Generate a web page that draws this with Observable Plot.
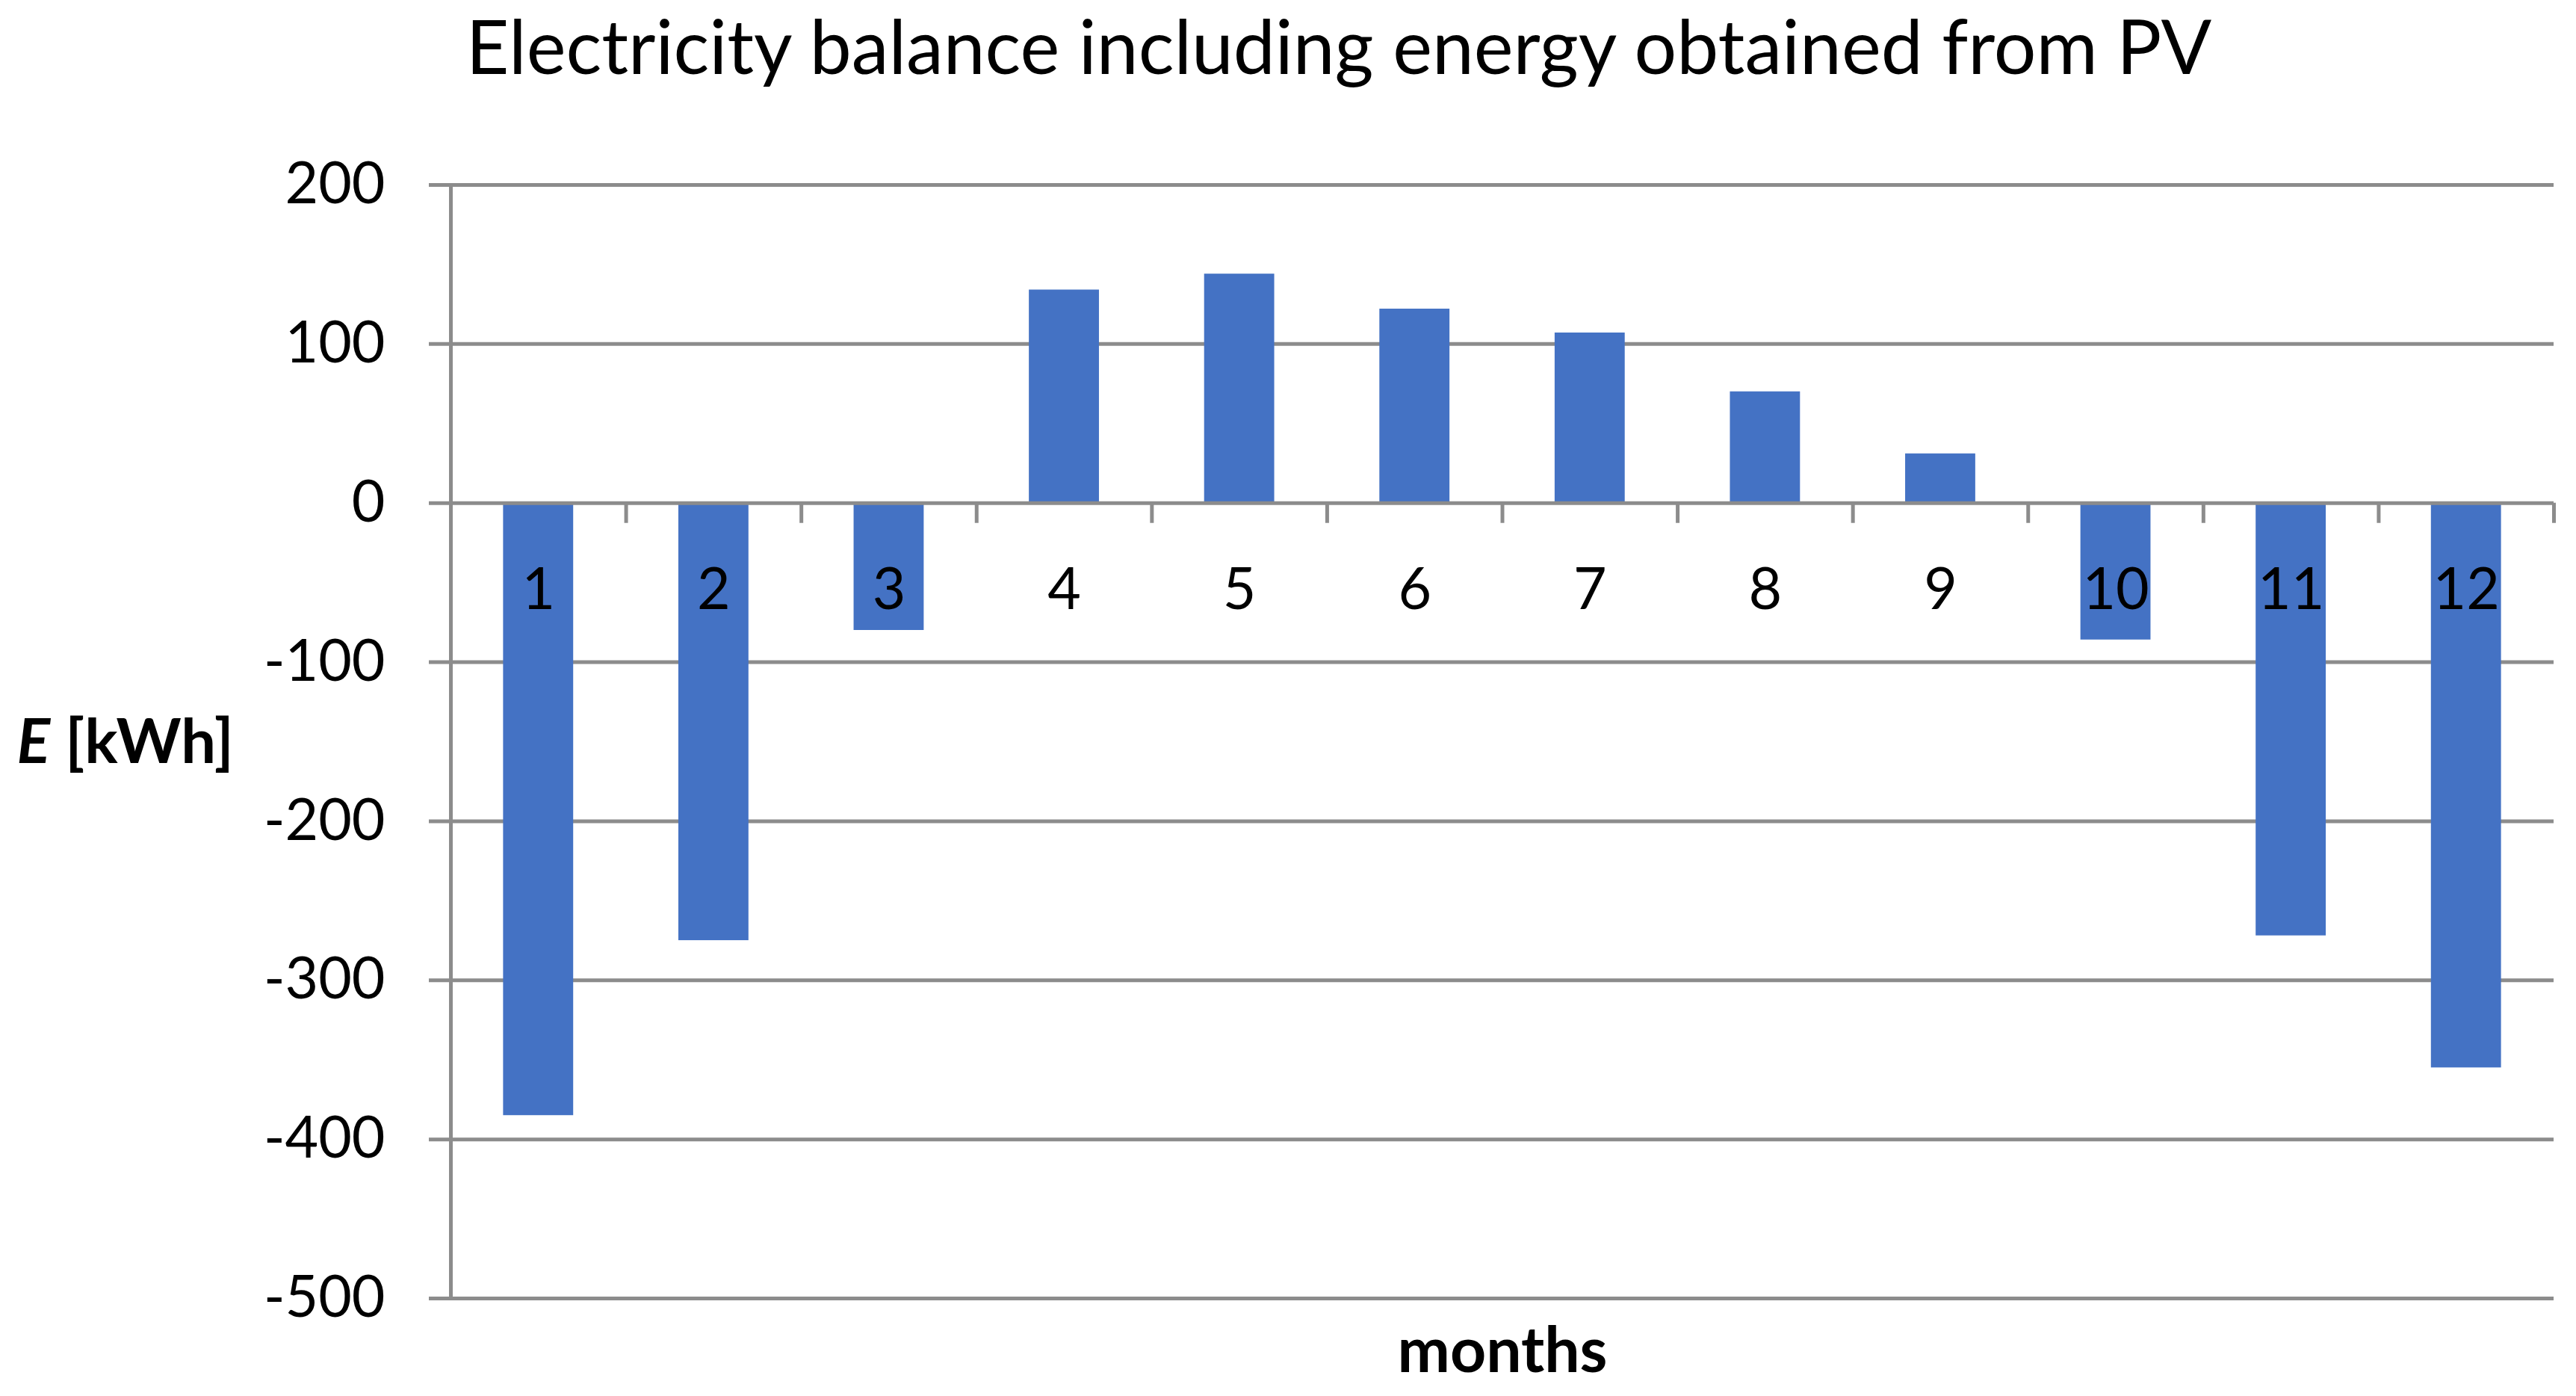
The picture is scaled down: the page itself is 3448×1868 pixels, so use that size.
<!DOCTYPE html>
<html>
<head>
<meta charset="utf-8">
<script src="https://cdn.jsdelivr.net/npm/d3@7"></script>
<script src="https://cdn.jsdelivr.net/npm/@observablehq/plot@0.6"></script>
<style>
  html, body { margin: 0; padding: 0; background: #ffffff; }
  #chart svg { display: block; }
</style>
</head>
<body>
<div id="chart"></div>
<script>
// ---- data ----
const months = [1, 2, 3, 4, 5, 6, 7, 8, 9, 10, 11, 12];
const values = [-385, -275, -80, 134, 144, 122, 107, 70, 31, -86, -272, -355];
const yTicks = [200, 100, 0, -100, -200, -300, -400, -500];
const titleText = "Electricity balance including energy obtained from PV";
const xLabelText = "months";
const yLabelSymbol = "E";
const yLabelUnit = " [kWh]";

const data = months.map((m, i) => ({month: m, value: values[i]}));
const bounds = months.map(m => m + 0.5);

const grid = "#8c8c8c";
const barColor = "#4472C4";
const font = "Lato";

const svg = Plot.plot({
  width: 3448,
  height: 1868,
  marginLeft: 603,
  marginRight: 30,
  marginTop: 247,
  marginBottom: 131,
  style: {fontFamily: font, background: "#ffffff", color: "#000000"},
  x: {domain: [0.5, 12.5], axis: null},
  y: {domain: [-500, 200], axis: null},
  marks: [
    Plot.ruleY(yTicks.filter(d => d !== 0), {stroke: grid, strokeWidth: 5, insetLeft: -29}),
    Plot.rect(data, {x1: d => d.month - 0.2, x2: d => d.month + 0.2, y1: 0, y2: "value", fill: barColor}),
    Plot.ruleY([0], {stroke: grid, strokeWidth: 5, insetLeft: -29}),
    Plot.ruleX(bounds, {x: d => d, y1: 0, y2: -12.7, stroke: grid, strokeWidth: 5}),
    Plot.ruleX([0.5], {y1: -500, y2: 200, stroke: grid, strokeWidth: 5}),
    Plot.axisY(yTicks, {tickSize: 0, tickPadding: 88, fontSize: 77, tickFormat: d => String(d), fill: "#000000", label: null}),
    Plot.text(data, {x: "month", y: 0, dy: 117, text: d => String(d.month), fontSize: 77, fill: "#000000"}),
    Plot.text([titleText], {frameAnchor: "top", lineAnchor: "middle", dx: -219, dy: -181, fontSize: 100, fill: "#000000"}),
    Plot.text([xLabelText], {frameAnchor: "bottom", lineAnchor: "middle", dy: 72, fontSize: 84, fontWeight: "bold", fill: "#000000"}),
    Plot.text([yLabelSymbol + yLabelUnit], {frameAnchor: "left", lineAnchor: "middle", dx: -581, dy: 2, textAnchor: "start", fontSize: 83, fontWeight: "bold", fill: "#000000", className: "ylab"})
  ]
});

// style the y label: italic symbol followed by unit
const yl = d3.select(svg).select("g.ylab text");
yl.text(null);
yl.append("tspan").attr("font-style", "italic").text(yLabelSymbol);
yl.append("tspan").text(yLabelUnit);

document.getElementById("chart").appendChild(svg);
</script>
</body>
</html>
